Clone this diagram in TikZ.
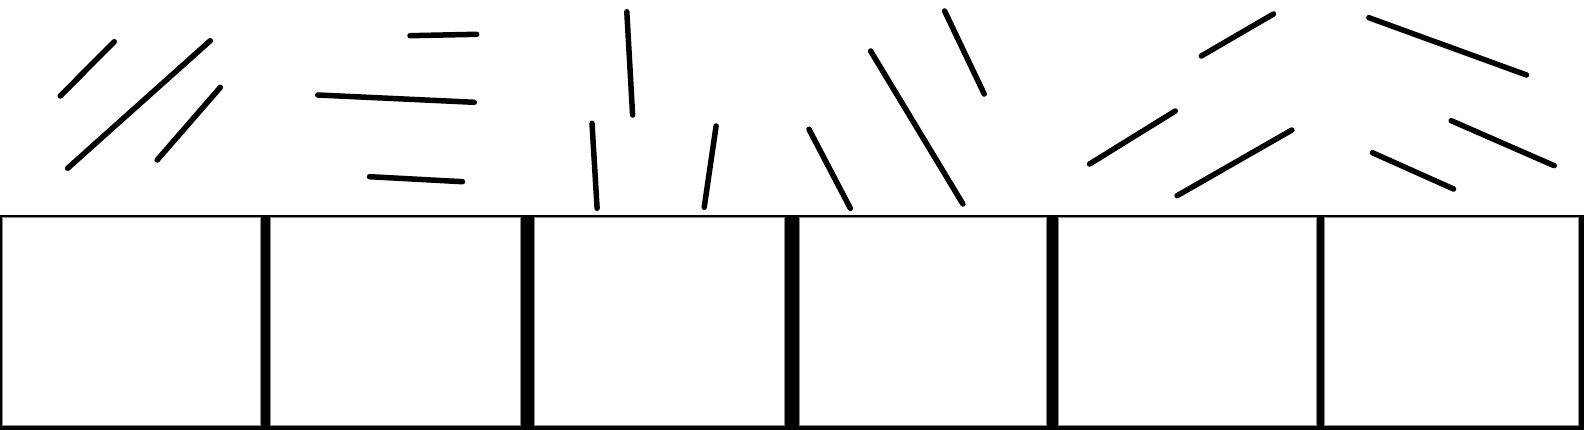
\documentclass[tikz,border=0pt]{standalone}
\begin{document}
\begin{tikzpicture}[x=1pt,y=-1pt,
  seg/.style={line width=5.5pt,line cap=round,black},
  cell/.style={fill=white,draw=gray!90,line width=1pt}]
\useasboundingbox (0,0) rectangle (1584,430);
% frame
\fill[black] (0,214.7) rectangle (1584,430);
\foreach \a/\b in {2/261,270/521,534/785,799/1047,1058/1317,1324/1579}{
  \path[cell] (\a+0.5,217.5) rectangle (\b-0.5,425.5);
}
% group 1
\draw[seg] (60.2,96) -- (114.3,41.7);
\draw[seg] (67.6,168.3) -- (210.3,40.7);
\draw[seg] (157.2,160) -- (220.4,87.3);
% group 2
\draw[seg] (410,35.7) -- (476.7,34.3);
\draw[seg] (317.8,95) -- (474.3,102.3);
\draw[seg] (369.5,176.7) -- (462.5,181.7);
% group 3
\draw[seg] (626.8,11.7) -- (632.6,115);
\draw[seg] (592,123.3) -- (597.1,208.3);
\draw[seg] (716.1,126) -- (704.2,207.3);
% group 4
\draw[seg] (809,129.3) -- (850.3,208.3);
\draw[seg] (870.6,51) -- (962.9,204);
\draw[seg] (944.6,11) -- (984.2,94);
% group 5
\draw[seg] (1201.3,56) -- (1273.5,14);
\draw[seg] (1089.6,164) -- (1175.3,111);
\draw[seg] (1177.1,195.7) -- (1291.9,130);
% group 6
\draw[seg] (1368.9,17.7) -- (1526.5,75);
\draw[seg] (1451.2,120.7) -- (1554.2,165.7);
\draw[seg] (1372.4,152.7) -- (1453.6,189);
\end{tikzpicture}
\end{document}
